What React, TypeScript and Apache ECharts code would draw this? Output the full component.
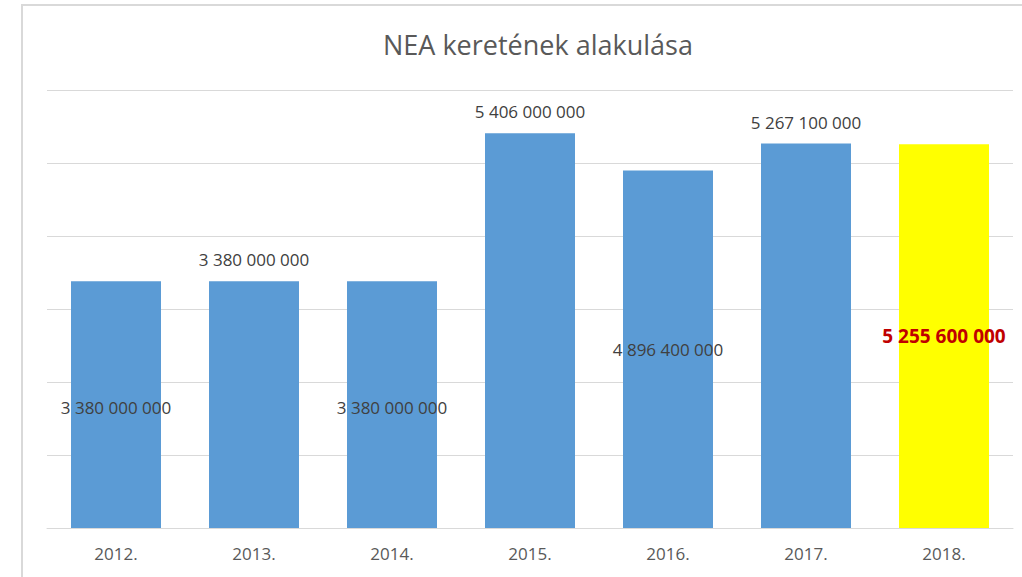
import React, { useEffect, useRef } from "react";
import * as echarts from "echarts";

const categories = ["2012.", "2013.", "2014.", "2015.", "2016.", "2017.", "2018."];
const values = [3380000000, 3380000000, 3380000000, 5406000000, 4896400000, 5267100000, 5255600000];
const labelPositions = ["inside", "top", "inside", "top", "inside", "top", "inside"];
const barColors = ["#5b9bd5", "#5b9bd5", "#5b9bd5", "#5b9bd5", "#5b9bd5", "#5b9bd5", "#ffff00"];
const titleText = "NEA keretének alakulása";

const fmt = (v: number) => String(Math.round(v)).replace(/\B(?=(\d{3})+(?!\d))/g, " ");

export default function App() {
  const ref = useRef<HTMLDivElement>(null);
  useEffect(() => {
    if (!ref.current) return;
    const chart = echarts.init(ref.current, null, { renderer: "svg" });
    const data = values.map((v, i) => {
      const last = i === values.length - 1;
      return {
        value: v,
        itemStyle: { color: barColors[i] },
        label: {
          show: true,
          position: labelPositions[i],
          distance: 13,
          offset: labelPositions[i] === "inside" && i < 3 ? [0, 3] : [0, 0],
          formatter: (p: any) => fmt(p.value),
          color: last ? "#c00000" : "#404040",
          fontWeight: last ? "bold" : "normal",
          fontSize: last ? 19 : 17,
          fontFamily: "Open Sans",
        },
      };
    });
    chart.setOption({
      animation: false,
      backgroundColor: "#ffffff",
      title: {
        text: titleText,
        left: 378,
        top: 26,
        textStyle: { fontFamily: "Open Sans", fontSize: 27, fontWeight: "normal", color: "#595959" },
      },
      graphic: [
        {
          type: "rect",
          shape: { x: 22, y: 5, width: 1100, height: 700 },
          style: { fill: "none", stroke: "#d9d9d9", lineWidth: 2 },
          silent: true,
        },
      ],
      grid: { left: 47, right: 9, top: 90, bottom: 49, containLabel: false },
      xAxis: {
        type: "category",
        data: categories,
        axisLine: { lineStyle: { color: "#d9d9d9", width: 1 } },
        axisTick: { show: false },
        axisLabel: { fontFamily: "Open Sans", fontSize: 17, color: "#595959", margin: 17 },
      },
      yAxis: {
        type: "value",
        min: 0,
        max: 6000000000,
        interval: 1000000000,
        axisLabel: { show: false },
        axisLine: { show: false },
        axisTick: { show: false },
        splitLine: { lineStyle: { color: "#d9d9d9", width: 1 } },
      },
      series: [
        {
          type: "bar",
          data,
          barWidth: 90,
        },
      ],
    });
    return () => chart.dispose();
  }, []);
  return (
    <div
      ref={ref}
      style={{ position: "absolute", left: 0, top: 0, width: 1022, height: 577 }}
    />
  );
}
